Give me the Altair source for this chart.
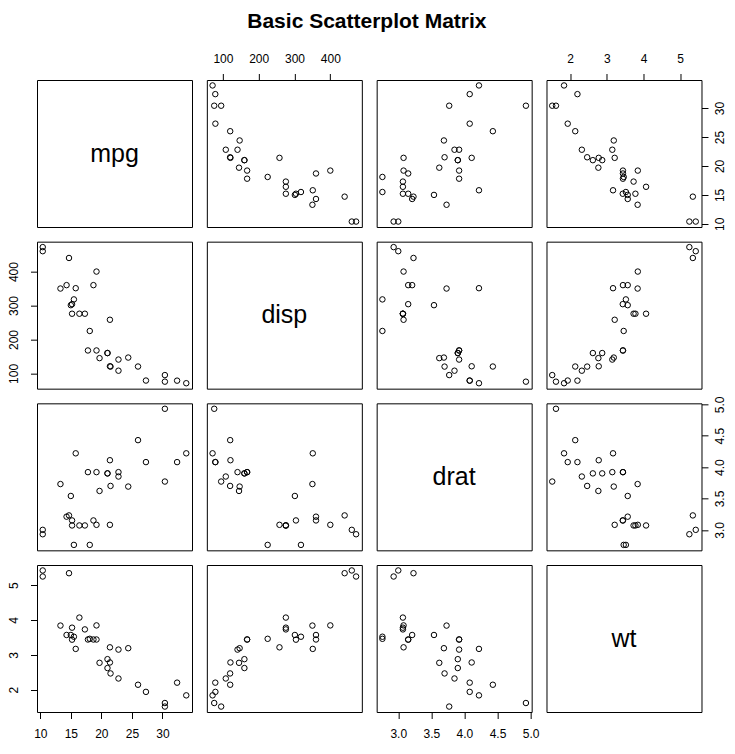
import altair as alt
import pandas as pd

# mtcars columns (32 cars)
mpg = [21.0, 21.0, 22.8, 21.4, 18.7, 18.1, 14.3, 24.4, 22.8, 19.2, 17.8, 16.4, 17.3, 15.2, 10.4, 10.4,
       14.7, 32.4, 30.4, 33.9, 21.5, 15.5, 15.2, 13.3, 19.2, 27.3, 26.0, 30.4, 15.8, 19.7, 15.0, 21.4]
disp = [160, 160, 108, 258, 360, 225, 360, 146.7, 140.8, 167.6, 167.6, 275.8, 275.8, 275.8, 472, 460,
        440, 78.7, 75.7, 71.1, 120.1, 318, 304, 350, 400, 79, 120.3, 95.1, 351, 145, 301, 121]
drat = [3.90, 3.90, 3.85, 3.08, 3.15, 2.76, 3.21, 3.69, 3.92, 3.92, 3.92, 3.07, 3.07, 3.07, 2.93, 3.00,
        3.23, 4.08, 4.93, 4.22, 3.70, 2.76, 3.15, 3.73, 3.08, 4.08, 4.43, 3.77, 4.22, 3.62, 3.54, 4.11]
wt = [2.620, 2.875, 2.320, 3.215, 3.440, 3.460, 3.570, 3.190, 3.150, 3.440, 3.440, 4.070, 3.730, 3.780,
      5.250, 5.424, 5.345, 2.200, 1.615, 1.835, 2.465, 3.520, 3.435, 3.840, 3.845, 1.935, 2.140, 1.513,
      3.170, 2.770, 3.570, 2.780]

variables = ["mpg", "disp", "drat", "wt"]
tick_mpg = [10, 15, 20, 25, 30]
tick_disp = [100, 200, 300, 400]
tick_drat = [3.0, 3.5, 4.0, 4.5, 5.0]
tick_wt = [2, 3, 4, 5]

df = pd.DataFrame({"mpg": mpg, "disp": disp, "drat": drat, "wt": wt})
ticks = {"mpg": tick_mpg, "disp": tick_disp, "drat": tick_drat, "wt": tick_wt}
fmts = {"mpg": "d", "disp": "d", "drat": ".1f", "wt": "d"}


def ext_domain(vals):
    lo, hi = min(vals), max(vals)
    r = hi - lo
    return [lo - 0.04 * r, hi + 0.04 * r]


domains = {v: ext_domain(df[v].tolist()) for v in variables}

FONT = "Liberation Sans"
W, H = 155, 147

cells = []
for r, yv in enumerate(variables):
    for c, xv in enumerate(variables):
        if r == c:
            ch = alt.Chart(pd.DataFrame({"label": [xv]})).mark_text(
                fontSize=25, font=FONT, color="black"
            ).encode(
                x=alt.value(W / 2), y=alt.value(H / 2), text="label:N"
            ).properties(width=W, height=H)
        else:
            top_x = (c % 2 == 1)
            show_x = (top_x and r == 0) or ((not top_x) and r == 3)
            right_y = (r % 2 == 0)
            show_y = (right_y and c == 3) or ((not right_y) and c == 0)
            if show_x:
                xaxis = alt.Axis(orient="top" if top_x else "bottom", values=ticks[xv],
                                 format=fmts[xv], title=None,
                                 labelPadding=8.2 if top_x else 9.5)
            else:
                xaxis = None
            if show_y:
                yaxis = alt.Axis(orient="right" if right_y else "left", values=ticks[yv],
                                 format=fmts[yv], title=None, labelAngle=270,
                                 labelAlign="center",
                                 labelBaseline="top" if right_y else "bottom",
                                 labelPadding=7 if right_y else 9.7)
            else:
                yaxis = None
            ch = alt.Chart(df).mark_point(
                shape="circle", filled=False, size=30, color="black", strokeWidth=1, opacity=1
            ).encode(
                x=alt.X(f"{xv}:Q", scale=alt.Scale(domain=domains[xv], nice=False, zero=False), axis=xaxis),
                y=alt.Y(f"{yv}:Q", scale=alt.Scale(domain=domains[yv], nice=False, zero=False), axis=yaxis),
            ).properties(width=W, height=H)
        cells.append(ch)

chart = alt.concat(
    *cells, columns=4, spacing={"row": 14.67, "column": 14.83}, bounds="flush",
    title=alt.Title("Basic Scatterplot Matrix", fontSize=21, fontWeight="bold", font=FONT,
                    anchor="middle", offset=20, color="black"),
).properties(
    autosize=alt.AutoSizeParams(type="none"),
    padding={"left": 29, "top": 72, "right": 690, "bottom": 662}
).configure_view(
    stroke="black", strokeWidth=1
).configure_axis(
    domain=False, grid=False, tickSize=6.5, tickColor="black", tickWidth=1,
    labelFont=FONT, labelFontSize=12, labelColor="black"
).configure_axisLeft(
    labelAngle=270
).configure_axisRight(
    labelAngle=270
)

chart.save("out.html", embed_options={"renderer": "svg", "actions": False})
